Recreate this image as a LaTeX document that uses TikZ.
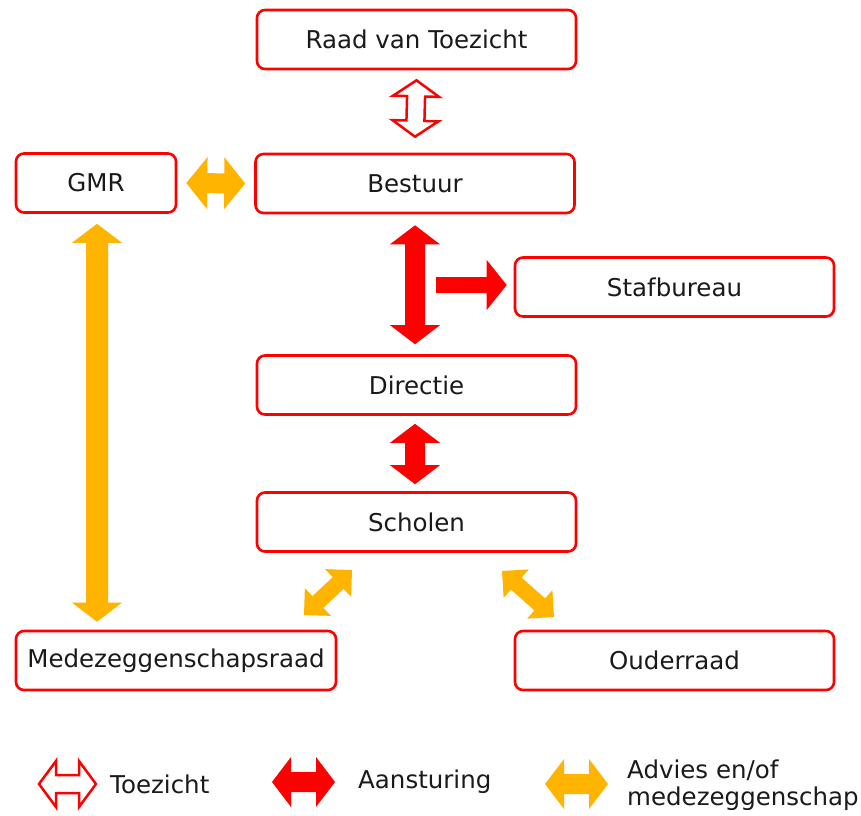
\documentclass[tikz,border=0pt]{standalone}
\usepackage{fontspec}
\setmainfont{DejaVu Sans}
\usetikzlibrary{calc}
\definecolor{bred}{HTML}{FF0000}
\definecolor{byel}{HTML}{FFB400}
\definecolor{txt}{HTML}{1A1A1A}
\tikzset{
  box/.style={draw=bred, line width=2.6pt, rounded corners=8pt, fill=white,
    minimum width=319pt, minimum height=59pt, inner sep=0pt, text=txt,
    font=\fontsize{24.5}{29}\selectfont},
  legtext/.style={text=txt, font=\fontsize{24.5}{29}\selectfont, inner sep=0pt},
  toez/.style={draw=bred, line width=2.5pt, fill=white, line join=miter},
  aans/.style={fill=bred, draw=none},
  advi/.style={fill=byel, draw=none},
}
% #1 style, #2 start, #3 end, #4 head length, #5 head half width, #6 shaft half width
\newcommand\dblarrow[6]{%
  \path[#1] (#2) -- ($(#2)!#4!(#3)!#5!90:(#3)$) -- ($(#2)!#4!(#3)!#6!90:(#3)$)
   -- ($(#3)!#4!(#2)!#6!-90:(#2)$) -- ($(#3)!#4!(#2)!#5!-90:(#2)$) -- (#3)
   -- ($(#3)!#4!(#2)!#5!90:(#2)$) -- ($(#3)!#4!(#2)!#6!90:(#2)$)
   -- ($(#2)!#4!(#3)!#6!-90:(#3)$) -- ($(#2)!#4!(#3)!#5!-90:(#3)$) -- cycle;}
% single arrow: tip at #3
\newcommand\sglarrow[6]{%
  \path[#1] ($(#2)!#6!90:(#3)$) -- ($(#3)!#4!(#2)!#6!-90:(#2)$) -- ($(#3)!#4!(#2)!#5!-90:(#2)$) -- (#3)
   -- ($(#3)!#4!(#2)!#5!90:(#2)$) -- ($(#3)!#4!(#2)!#6!90:(#2)$)
   -- ($(#2)!#6!-90:(#3)$) -- cycle;}
\begin{document}
\begin{tikzpicture}[x=1pt,y=-1pt]
\useasboundingbox[fill=white] (0,0) rectangle (861,815);
% boxes
\node[box] (raad) at (416.5,39.5) {Raad van Toezicht};
\node[box] (bestuur) at (415,183.5) {Bestuur};
\node[box, minimum width=160pt] (gmr) at (96,183) {GMR};
\node[box] (staf) at (674.5,287) {Stafbureau};
\node[box] (directie) at (416.5,385) {Directie};
\node[box] (scholen) at (416.5,522) {Scholen};
\node[box, minimum width=320pt] (mr) at (176,660.5) {Medezeggenschapsraad};
\node[box] (ouder) at (674.5,660.5) {Ouderraad};
% connector end points
\coordinate (rt1) at ([yshift=-10pt]raad.south);
\coordinate (rt2) at ([yshift=16pt]bestuur.north);
\coordinate (bd1) at ([yshift=-11pt]bestuur.south);
\coordinate (bd2) at ([xshift=-1.5pt,yshift=10pt]directie.north);
\coordinate (sb1) at (436,285);
\coordinate (sb2) at ([xshift=-7pt,yshift=2pt]staf.west);
\coordinate (ds1) at ([xshift=-1.5pt,yshift=-8pt]directie.south);
\coordinate (ds2) at ([xshift=-1.5pt,yshift=7pt]scholen.north);
\coordinate (gb1) at ([xshift=9pt]gmr.east);
\coordinate (gb2) at ([xshift=-9pt]bestuur.west);
\coordinate (gm1) at ([xshift=1pt,yshift=-10pt]gmr.south);
\coordinate (gm2) at ([xshift=-79pt,yshift=8pt]mr.north);
\coordinate (sm1) at (352,570);
\coordinate (sm2) at (304,615);
\coordinate (so1) at (502,571);
\coordinate (so2) at (554,617);
% connectors
\dblarrow{toez}{rt1}{rt2}{16pt}{23pt}{9pt}
\dblarrow{aans}{bd1}{bd2}{19pt}{25pt}{10pt}
\sglarrow{aans}{sb1}{sb2}{20pt}{25pt}{8pt}
\dblarrow{aans}{ds1}{ds2}{19pt}{25pt}{10pt}
\dblarrow{advi}{gb1}{gb2}{21pt}{26pt}{10pt}
\dblarrow{advi}{gm1}{gm2}{19pt}{25pt}{11pt}
\dblarrow{advi}{sm1}{sm2}{19pt}{19pt}{8pt}
\dblarrow{advi}{so1}{so2}{19pt}{19pt}{8pt}
% legend
\coordinate (l1a) at (39,784);
\coordinate (l1b) at (96,784);
\coordinate (l2a) at (272,782);
\coordinate (l2b) at (335,782);
\coordinate (l3a) at (545,784);
\coordinate (l3b) at (608,784);
\dblarrow{toez}{l1a}{l1b}{17pt}{23pt}{9pt}
\dblarrow{aans}{l2a}{l2b}{19pt}{25pt}{10pt}
\dblarrow{advi}{l3a}{l3b}{19pt}{25pt}{10pt}
\node[legtext, anchor=west] (lt1) at (110,784) {Toezicht};
\node[legtext, anchor=west] (lt2) at (358,782) {Aansturing};
\node[legtext, anchor=west, align=left] (lt3) at (627,785) {Advies en/of\\[-2pt]medezeggenschap};
\end{tikzpicture}
\end{document}
